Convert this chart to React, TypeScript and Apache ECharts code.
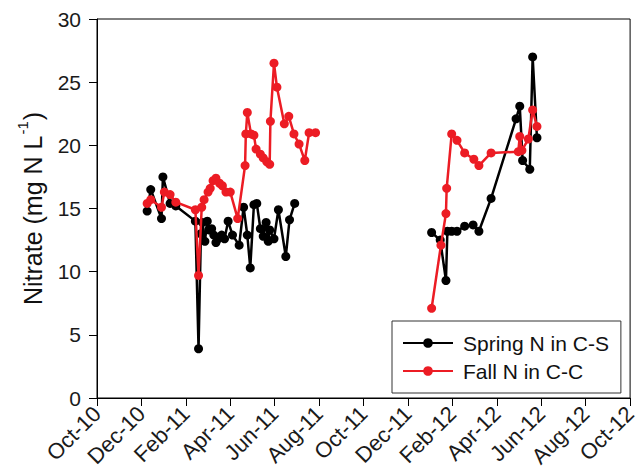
import React, { useEffect, useRef } from "react";
import * as echarts from "echarts";

const FONT = "Liberation Sans, Arial, Helvetica, sans-serif";

const tickLabels = [
  "Oct-10", "Dec-10", "Feb-11", "Apr-11", "Jun-11", "Aug-11", "Oct-11",
  "Dec-11", "Feb-12", "Apr-12", "Jun-12", "Aug-12", "Oct-12",
];

const springName = "Spring N in C-S";
const fallName = "Fall N in C-C";

const springDates2011 = [
  "2010-12-09", "2010-12-14", "2010-12-29", "2010-12-31", "2011-01-10", "2011-01-18",
  "2011-02-13", "2011-02-17", "2011-02-20", "2011-02-22", "2011-02-25", "2011-02-28",
  "2011-03-02", "2011-03-06", "2011-03-09", "2011-03-12", "2011-03-15", "2011-03-20",
  "2011-03-24", "2011-03-29", "2011-04-04", "2011-04-13", "2011-04-19", "2011-04-24",
  "2011-04-28", "2011-05-03", "2011-05-07", "2011-05-12", "2011-05-16", "2011-05-20",
  "2011-05-23", "2011-05-25", "2011-05-31", "2011-06-06", "2011-06-16", "2011-06-21",
  "2011-06-28",
];
const springValues2011 = [
  14.8, 16.5, 14.2, 17.5, 15.4, 15.2,
  14.0, 3.9, 13.0, 13.9, 12.4, 14.0,
  13.3, 13.4, 12.9, 12.3, 12.6, 12.9,
  12.6, 14.0, 12.9, 12.1, 15.1, 12.9,
  10.3, 15.3, 15.4, 13.4, 12.8, 13.9,
  12.4, 13.3, 12.6, 14.9, 11.2, 14.1,
  15.4,
];

const springDates2012 = [
  "2012-01-03", "2012-01-15", "2012-01-23", "2012-01-25", "2012-01-31", "2012-02-07",
  "2012-02-17", "2012-02-28", "2012-03-07", "2012-03-24", "2012-04-27", "2012-05-02",
  "2012-05-06", "2012-05-16", "2012-05-20", "2012-05-26",
];
const springValues2012 = [
  13.1, 12.5, 9.3, 13.2, 13.2, 13.2,
  13.6, 13.7, 13.2, 15.8, 22.1, 23.1,
  18.8, 18.1, 27.0, 20.6,
];

const fallDates2011 = [
  "2010-12-09", "2010-12-14", "2010-12-29", "2011-01-02", "2011-01-10", "2011-01-18",
  "2011-02-13", "2011-02-17", "2011-02-21", "2011-02-24", "2011-03-01", "2011-03-04",
  "2011-03-08", "2011-03-12", "2011-03-17", "2011-03-21", "2011-03-26", "2011-04-01",
  "2011-04-11", "2011-04-21", "2011-04-22", "2011-04-24", "2011-04-29", "2011-05-03",
  "2011-05-06", "2011-05-12", "2011-05-16", "2011-05-21", "2011-05-25", "2011-05-26",
  "2011-05-31", "2011-06-04", "2011-06-14", "2011-06-20", "2011-06-27", "2011-07-04",
  "2011-07-12", "2011-07-18", "2011-07-27",
];
const fallValues2011 = [
  15.4, 15.7, 15.1, 16.3, 16.1, 15.5,
  14.9, 9.7, 15.1, 15.7, 16.3, 16.6,
  17.2, 17.4, 17.0, 16.8, 16.3, 16.3,
  14.2, 18.4, 20.9, 22.6, 20.9, 20.8,
  19.7, 19.3, 19.0, 18.7, 18.5, 21.9,
  26.5, 24.6, 21.7, 22.3, 20.9, 20.1,
  18.8, 21.0, 21.0,
];

const fallDates2012 = [
  "2012-01-03", "2012-01-16", "2012-01-23", "2012-01-24", "2012-01-31", "2012-02-07",
  "2012-02-17", "2012-02-29", "2012-03-07", "2012-03-24", "2012-04-30", "2012-05-02",
  "2012-05-05", "2012-05-14", "2012-05-20", "2012-05-26",
];
const fallValues2012 = [
  7.1, 12.1, 14.6, 16.6, 20.9, 20.4,
  19.4, 18.9, 18.4, 19.4, 19.5, 20.7,
  19.6, 20.5, 22.8, 21.5,
];

// months elapsed since 1 Oct 2010
function monthPos(s: string): number {
  const [y, m, d] = s.split("-").map(Number);
  const days = new Date(Date.UTC(y, m, 0)).getUTCDate();
  return (y - 2010) * 12 + (m - 10) + (d - 1) / days;
}

function buildData(segments: [string[], number[]][]) {
  const out: any[] = [];
  segments.forEach(([dates, vals], i) => {
    if (i > 0) out.push([monthPos(dates[0]) - 0.5, "-"]);
    dates.forEach((dt, j) => out.push([monthPos(dt), vals[j]]));
  });
  return out;
}

export default function App() {
  const ref = useRef<HTMLDivElement>(null);
  useEffect(() => {
    if (!ref.current) return;
    const chart = echarts.init(ref.current, undefined, { renderer: "svg" });
    const axisColor = "#000";
    const springData = buildData([
      [springDates2011, springValues2011],
      [springDates2012, springValues2012],
    ]);
    const fallData = buildData([
      [fallDates2011, fallValues2011],
      [fallDates2012, fallValues2012],
    ]);
    chart.setOption({
      animation: false,
      backgroundColor: "#fff",
      textStyle: { fontFamily: FONT },
      grid: {
        left: 97,
        right: 2,
        top: 19,
        bottom: 78,
        show: true,
        borderColor: axisColor,
        borderWidth: 1,
        backgroundColor: "transparent",
      },
      xAxis: {
        type: "value",
        min: 0,
        max: 24,
        interval: 2,
        axisLine: { show: true, lineStyle: { color: axisColor, width: 1 } },
        axisTick: { show: true, inside: false, length: 8, lineStyle: { color: axisColor, width: 1 } },
        axisLabel: {
          rotate: 45,
          margin: 12,
          fontSize: 22,
          color: "#1a1a1a",
          fontFamily: FONT,
          showMinLabel: true,
          showMaxLabel: true,
          formatter: (v: number) => tickLabels[Math.round(v / 2)] ?? "",
        },
        splitLine: { show: false },
      },
      yAxis: {
        type: "value",
        min: 0,
        max: 30,
        interval: 5,
        name: "{a|Nitrate (mg N L}{b|-1}{a|)}",
        nameLocation: "middle",
        nameGap: 52,
        nameRotate: 90,
        nameTextStyle: {
          fontFamily: FONT,
          color: "#111",
          rich: {
            a: { fontSize: 25, fontFamily: FONT, color: "#111", lineHeight: 30, verticalAlign: "bottom" },
            b: { fontSize: 15, fontFamily: FONT, color: "#111", lineHeight: 30, verticalAlign: "top", padding: [0, 1, 0, 1] },
          },
        },
        axisLine: { show: true, lineStyle: { color: axisColor, width: 1 } },
        axisTick: { show: true, inside: false, length: 8, lineStyle: { color: axisColor, width: 1 } },
        axisLabel: { margin: 16, fontSize: 21, color: "#1a1a1a", fontFamily: FONT },
        splitLine: { show: false },
      },
      legend: {
        data: [springName, fallName],
        orient: "vertical",
        left: 392,
        top: 321,
        padding: [10, 12, 10, 10],
        itemGap: 4,
        itemWidth: 50,
        itemHeight: 12,
        borderColor: "#333",
        borderWidth: 1,
        borderRadius: 0,
        backgroundColor: "#fff",
        textStyle: { fontSize: 21, color: "#111", fontFamily: FONT, lineHeight: 24, padding: [0, 0, 0, 5] },
      },
      series: [
        {
          name: springName,
          type: "line",
          data: springData,
          symbol: "circle",
          symbolSize: 9,
          connectNulls: false,
          lineStyle: { color: "#000", width: 2.5 },
          itemStyle: { color: "#000" },
          z: 2,
        },
        {
          name: fallName,
          type: "line",
          data: fallData,
          symbol: "circle",
          symbolSize: 9,
          connectNulls: false,
          lineStyle: { color: "#ec1c24", width: 2.5 },
          itemStyle: { color: "#ec1c24" },
          z: 3,
        },
      ],
    });
    return () => chart.dispose();
  }, []);
  return (
    <div
      ref={ref}
      style={{ position: "absolute", left: 0, top: 0, width: 640, height: 476 }}
    />
  );
}
